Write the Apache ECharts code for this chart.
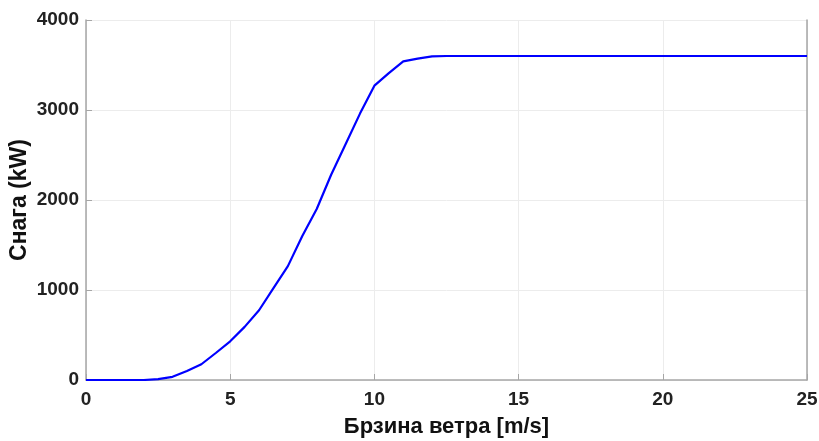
<!DOCTYPE html>
<html>
<head>
<meta charset="utf-8">
<script src="https://cdn.jsdelivr.net/npm/echarts@6/dist/echarts.min.js"></script>
<style>
  html, body { margin: 0; padding: 0; background: #fff; }
  #chart { width: 819px; height: 441px; }
</style>
</head>
<body>
<div id="chart"></div>
<script>
// Wind speed samples [m/s] and turbine output power [kW]
const windSpeed = [0, 0.5, 1, 1.5, 2, 2.5, 3, 3.5, 4, 4.5, 5, 5.5, 6, 6.5, 7, 7.5, 8, 8.5, 9, 9.5, 10, 10.5, 11, 11.5, 12, 12.5, 13, 14, 15, 16, 17, 18, 19, 20, 21, 22, 23, 24, 25];
const power = [0, 0, 0, 0, 0, 10, 35, 100, 175, 300, 430, 590, 775, 1020, 1265, 1600, 1900, 2280, 2620, 2960, 3270, 3410, 3540, 3570, 3595, 3600, 3600, 3600, 3600, 3600, 3600, 3600, 3600, 3600, 3600, 3600, 3600, 3600, 3600];
const xTicks = [0, 5, 10, 15, 20, 25];
const yTicks = [0, 1000, 2000, 3000, 4000];

const font = 'Liberation Sans, Arial, sans-serif';
const axisGray = '#a6a6a6';
const gridGray = '#ececec';

const chart = echarts.init(document.getElementById('chart'), null, { renderer: 'canvas' });
chart.setOption({
  animation: false,
  grid: { left: 86, right: 12, top: 20, bottom: 61, containLabel: false, outerBoundsMode: 'none' },
  xAxis: {
    type: 'value',
    min: xTicks[0],
    max: xTicks[xTicks.length - 1],
    interval: xTicks[1] - xTicks[0],
    name: 'Брзина ветра [m/s]',
    nameLocation: 'middle',
    nameGap: 36,
    nameMoveOverlap: false,
    nameTextStyle: { fontFamily: font, fontWeight: 'bold', fontSize: 22, color: '#111' },
    axisLine: { lineStyle: { color: axisGray, width: 1.5 } },
    axisTick: { inside: true, length: 6, lineStyle: { color: axisGray } },
    axisLabel: { fontFamily: font, fontWeight: 'bold', fontSize: 19, color: '#222', margin: 10, formatter: v => String(v) },
    splitLine: { show: true, lineStyle: { color: gridGray, width: 1 } }
  },
  yAxis: [{
    type: 'value',
    min: yTicks[0],
    max: yTicks[yTicks.length - 1],
    interval: yTicks[1] - yTicks[0],
    name: 'Снага (kW)',
    nameLocation: 'middle',
    nameGap: 55,
    nameMoveOverlap: false,
    nameTextStyle: { fontFamily: font, fontWeight: 'bold', fontSize: 23, color: '#111' },
    axisLine: { show: true, lineStyle: { color: axisGray, width: 1.5 } },
    axisTick: { show: true, inside: true, length: 6, lineStyle: { color: axisGray } },
    axisLabel: { fontFamily: font, fontWeight: 'bold', fontSize: 19, color: '#222', margin: 7, formatter: v => String(v) },
    splitLine: { show: true, lineStyle: { color: gridGray, width: 1 } }
  }, {
    type: 'value',
    position: 'right',
    min: yTicks[0],
    max: yTicks[yTicks.length - 1],
    interval: yTicks[1] - yTicks[0],
    axisLine: { show: true, lineStyle: { color: axisGray, width: 1.5 } },
    axisTick: { show: false },
    axisLabel: { show: false },
    splitLine: { show: false }
  }],
  series: [{
    type: 'line',
    data: windSpeed.map((v, i) => [v, power[i]]),
    showSymbol: false,
    lineStyle: { color: '#0000ff', width: 2.2 },
    itemStyle: { color: '#0000ff' }
  }]
});
</script>
</body>
</html>
